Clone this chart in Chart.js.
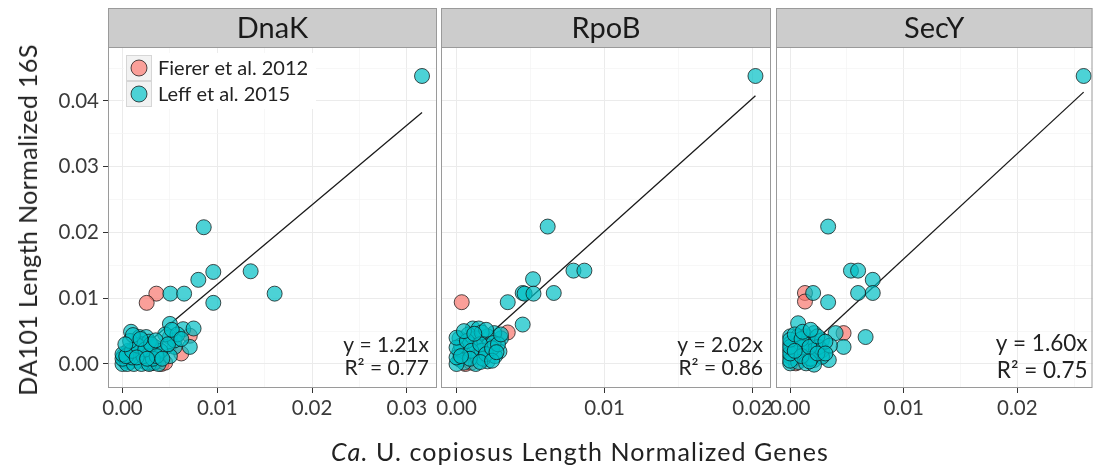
<!DOCTYPE html>
<html>
<head>
<meta charset="utf-8">
<script src="https://cdn.jsdelivr.net/npm/chart.js@4.4.1/dist/chart.umd.min.js"></script>
<style>
  body { margin: 0; background: #fff; font-family: Lato, "Open Sans", sans-serif; }
  .wrap { position: relative; width: 1101px; height: 466px; overflow: hidden; }
  canvas { position: absolute; left: 0; top: 0; }
  .ytitle { position: absolute; left: 27px; top: 220px; transform: translate(-50%, -50%) rotate(-90deg);
            white-space: nowrap; font-size: 25px; letter-spacing: 0.4px; color: #222; }
  .xtitle { position: absolute; left: 580px; top: 451px; transform: translate(-50%, -50%);
            white-space: nowrap; font-size: 25px; letter-spacing: 1.1px; color: #222; }
</style>
</head>
<body>
<div class="wrap">
  <canvas id="c0" width="1101" height="466"></canvas>
  <canvas id="c1" width="1101" height="466"></canvas>
  <canvas id="c2" width="1101" height="466"></canvas>
  <div class="ytitle">DA101 Length Normalized 16S</div>
  <div class="xtitle"><i>Ca.</i> U. copiosus Length Normalized Genes</div>
</div>
<script>
// facet names, fits
const panelNames = ['DnaK', 'RpoB', 'SecY'];
const slopes = [1.21, 2.02, 1.60];
const rSquared = ['0.77', '0.86', '0.75'];
const seriesNames = ['Fierer et al. 2012', 'Leff et al. 2015'];

// DnaK
const dnakLeffX = [0.0316, 0.00857, 0.00958, 0.0080, 0.01352, 0.01605, 0.00958, 0.00505, 0.0065,
  0.0009, 0.0018, 0.0025, 0.0050, 0.0064, 0.0075, 0.0050, 0.0071, 0.0055, 0.0046, 0.0034, 0.0030,
  0.0006, 0.0014, 0.0002, 0.0008, 0.0017, 0.0025, 0.0033, 0.0000, 0.0005, 0.0012, 0.0020, 0.0028,
  0.0038, 0.0050, 0.0055, 0.0045, 0.0040, 0.0020, 0.0028, 0.0010, 0.0022, 0.0032, 0.0001, 0.0015,
  0.0000, 0.0000, 0.0004, 0.0010, 0.0016, 0.0024, 0.0030, 0.0036, 0.0042, 0.0008, 0.0015, 0.0026,
  0.0035, 0.0048, 0.0058, 0.0052, 0.0062, 0.0011, 0.0019, 0.0003];
const dnakLeffY = [0.0438, 0.0208, 0.0140, 0.0128, 0.0141, 0.0107, 0.0093, 0.0107, 0.0107,
  0.0049, 0.0041, 0.0041, 0.0061, 0.0053, 0.0054, 0.0041, 0.0026, 0.0026, 0.0026, 0.0026, 0.0013,
  0.0020, 0.0018, 0.0005, 0.0003, 0.0005, 0.0002, 0.0002, 0.0000, 0.0000, 0.0000, 0.0000, 0.0000,
  0.0000, 0.0012, 0.0036, 0.0045, 0.0020, 0.0030, 0.0034, 0.0010, 0.0012, 0.0008, 0.0012, 0.0028,
  0.0008, 0.0015, 0.0012, 0.0020, 0.0028, 0.0022, 0.0030, 0.0012, 0.0008, 0.0035, 0.0010, 0.0008,
  0.0036, 0.0030, 0.0045, 0.0052, 0.0038, 0.0044, 0.0038, 0.0030];
const dnakFiererX = [0.00357, 0.00255, 0.0071, 0.0062, 0.0041, 0.0035, 0.0045, 0.0030];
const dnakFiererY = [0.0107, 0.0093, 0.0043, 0.0016, 0.0000, 0.0003, 0.0002, 0.0001];

// RpoB
const rpobLeffX = [0.0202, 0.00616, 0.0079, 0.00864, 0.00517, 0.00447, 0.0046, 0.0052, 0.00657, 0.00346, 0.00447,
  0.0030, 0.0029, 0.00255, 0.0011, 0.0015, 0.0002, 0.0002, 0.0002, 0.0021, 0.0021, 0.0021, 0.0013,
  0.0013, 0.0013, 0.0013, 0.0005, 0.0005, 0.0008, 0.0017, 0.0025, 0.0009, 0.0017, 0.0000, 0.0003,
  0.0018, 0.0026,
  0.0000, 0.0000, 0.0000, 0.0007, 0.0010, 0.0016, 0.0020, 0.0024, 0.0028, 0.0005, 0.0020, 0.0009,
  0.0016, 0.0024, 0.0030, 0.0012, 0.0003, 0.0027];
const rpobLeffY = [0.0438, 0.0209, 0.0142, 0.0142, 0.0129, 0.0108, 0.0107, 0.0107, 0.0108, 0.0094, 0.0060,
  0.0039, 0.0019, 0.0047, 0.0054, 0.0054, 0.0039, 0.0019, 0.0007, 0.0042, 0.0027, 0.0004, 0.0039,
  0.0027, 0.0011, 0.0000, 0.0015, 0.0002, 0.0045, 0.0048, 0.0032, 0.0030, 0.0020, 0.0000, 0.0028,
  0.0008, 0.0012,
  0.0010, 0.0025, 0.0040, 0.0035, 0.0020, 0.0030, 0.0015, 0.0024, 0.0030, 0.0050, 0.0052, 0.0008,
  0.0003, 0.0005, 0.0045, 0.0046, 0.0012, 0.0018];
const rpobFiererX = [0.00035, 0.00346, 0.0006, 0.0010];
const rpobFiererY = [0.0094, 0.0048, 0.0000, 0.0002];

// SecY
const secyLeffX = [0.02584, 0.00334, 0.00535, 0.00598, 0.00727, 0.00598, 0.00727, 0.00202, 0.00334,
  0.00664, 0.0040, 0.0047, 0.0034, 0.0007,
  0.0000, 0.0000, 0.0000, 0.0000, 0.0000, 0.0007, 0.0007, 0.0007, 0.0007, 0.0014, 0.0014, 0.0014,
  0.0014, 0.0014, 0.0021, 0.0021, 0.0021, 0.0021, 0.0028, 0.0028, 0.0028, 0.0021, 0.0025, 0.0035,
  0.0010, 0.0018,
  0.0000, 0.0000, 0.0000, 0.0000, 0.0004, 0.0010, 0.0010, 0.0017, 0.0017, 0.0024, 0.0024, 0.0031,
  0.0031, 0.0004, 0.0011, 0.0018];
const secyLeffY = [0.0438, 0.0209, 0.0142, 0.0142, 0.0128, 0.0108, 0.0108, 0.0108, 0.0094,
  0.0041, 0.0047, 0.0026, 0.0006, 0.0062,
  0.0042, 0.0031, 0.0021, 0.0011, 0.0001, 0.0042, 0.0031, 0.0016, 0.0003, 0.0042, 0.0031, 0.0021,
  0.0011, 0.0001, 0.0047, 0.0031, 0.0021, 0.0006, 0.0036, 0.0021, 0.0011, -0.0001, 0.0026, 0.0028,
  0.0025, 0.0008,
  0.0005, 0.0016, 0.0026, 0.0037, 0.0045, 0.0038, 0.0012, 0.0026, 0.0004, 0.0016, 0.0042, 0.0034,
  0.0016, 0.0020, 0.0049, 0.0052];
const secyFiererX = [0.0013, 0.0013, 0.0047, 0.0005];
const secyFiererY = [0.0108, 0.0095, 0.0047, 0.0001];

// axes
const yTicks = [0, 0.005, 0.01, 0.015, 0.02, 0.025, 0.03, 0.035, 0.04, 0.045];
const xTicks = [
  [0, 0.005, 0.01, 0.015, 0.02, 0.025, 0.03],
  [0, 0.005, 0.01, 0.015, 0.02],
  [0, 0.005, 0.01, 0.015, 0.02, 0.025]
];
const xLimits = [[-0.00153, 0.03318], [-0.00105, 0.02125], [-0.00125, 0.02662]];
const yLimits = [-0.00365, 0.04821];

const leffX = [dnakLeffX, rpobLeffX, secyLeffX];
const leffY = [dnakLeffY, rpobLeffY, secyLeffY];
const fiererX = [dnakFiererX, rpobFiererX, secyFiererX];
const fiererY = [dnakFiererY, rpobFiererY, secyFiererY];

const TEAL = 'rgba(0,191,196,0.7)';
const PINK = 'rgba(248,118,109,0.7)';
const EDGE = 'rgba(20,20,20,0.75)';
const FONT = 'Lato, "Open Sans", sans-serif';

const isMajor = v => Math.abs(v * 100 - Math.round(v * 100)) < 1e-6;
const pts = (xs, ys) => xs.map((x, i) => ({ x, y: ys[i] }));

// strip, panel border, fit label, legend
const panelDecor = {
  id: 'panelDecor',
  afterDraw(chart, args, o) {
    const { ctx, chartArea: a } = chart;
    ctx.save();
    ctx.fillStyle = '#cccccc';
    ctx.fillRect(a.left, 8, a.right - a.left, a.top - 8);
    ctx.strokeStyle = '#9a9a9a';
    ctx.lineWidth = 1;
    ctx.strokeRect(a.left + 0.5, 8.5, a.right - a.left - 1, a.top - 8);
    ctx.strokeRect(a.left + 0.5, a.top + 0.5, a.right - a.left - 1, a.bottom - a.top - 1);

    ctx.fillStyle = '#1a1a1a';
    ctx.textAlign = 'center';
    ctx.textBaseline = 'middle';
    ctx.font = '29px ' + FONT;
    ctx.fillText(o.name, (a.left + a.right) / 2, 29);

    ctx.fillStyle = '#222';
    ctx.textAlign = 'right';
    ctx.font = o.fitSize + 'px ' + FONT;
    ctx.fillText('y = ' + o.slope.toFixed(2) + 'x', a.right - o.fitRight, o.fitY1);
    ctx.fillText('R\u00B2 = ' + o.r2, a.right - o.fitRight, o.fitY2);

    if (o.legend) {
      const lx = a.left + 18, ly = 55;
      ctx.fillStyle = '#fff';
      ctx.fillRect(lx - 2, ly - 2, 192, 56);
      const cols = [PINK, TEAL];
      seriesNames.forEach((name, i) => {
        const y0 = ly + i * 26;
        ctx.fillStyle = '#f2f2f2';
        ctx.fillRect(lx, y0, 26, 26);
        ctx.strokeStyle = '#d6d6d6';
        ctx.strokeRect(lx + 0.5, y0 + 0.5, 25, 25);
        ctx.beginPath();
        ctx.arc(lx + 13, y0 + 13, 8, 0, Math.PI * 2);
        ctx.fillStyle = '#fff';
        ctx.fill();
        ctx.fillStyle = cols[i];
        ctx.fill();
        ctx.strokeStyle = EDGE;
        ctx.stroke();
        ctx.fillStyle = '#222';
        ctx.textAlign = 'left';
        ctx.font = '20px ' + FONT;
        ctx.fillText(name, lx + 32, y0 + 14);
      });
    }
    ctx.restore();
  }
};

function makePanel(i, padLeft, padRight, yAxisWidth, fit) {
  const maxX = Math.max(...leffX[i], ...fiererX[i]);
  new Chart(document.getElementById('c' + i), {
    type: 'scatter',
    data: {
      datasets: [
        { label: seriesNames[1], data: pts(leffX[i], leffY[i]), backgroundColor: TEAL, borderColor: EDGE,
          borderWidth: 1, pointRadius: 7.5, pointHoverRadius: 7.5 },
        { label: seriesNames[0], data: pts(fiererX[i], fiererY[i]), backgroundColor: PINK, borderColor: EDGE,
          borderWidth: 1, pointRadius: 7.5, pointHoverRadius: 7.5 },
        { label: 'fit', data: [{ x: 0, y: 0 }, { x: maxX, y: slopes[i] * maxX }], showLine: true,
          borderColor: '#1a1a1a', borderWidth: 1.3, pointRadius: 0 }
      ]
    },
    options: {
      responsive: false,
      animation: false,
      events: [],
      layout: { padding: { left: padLeft, right: padRight, top: 47, bottom: 0 } },
      plugins: {
        legend: { display: false },
        tooltip: { enabled: false },
        panelDecor: Object.assign({ name: panelNames[i], slope: slopes[i], r2: rSquared[i], legend: i === 0 }, fit)
      },
      scales: {
        x: {
          type: 'linear', min: xLimits[i][0], max: xLimits[i][1],
          afterBuildTicks: s => { s.ticks = xTicks[i].map(v => ({ value: v })); },
          afterFit: s => { s.height = 78; },
          border: { display: false },
          grid: {
            color: c => isMajor(c.tick.value) ? '#ebebeb' : '#f4f4f4',
            lineWidth: c => isMajor(c.tick.value) ? 1 : 0.7,
            tickColor: c => isMajor(c.tick.value) ? '#333' : 'rgba(0,0,0,0)',
            tickLength: 5
          },
          ticks: {
            autoSkip: false, maxRotation: 0, padding: 3, color: '#3a3a3a',
            font: { family: FONT, size: 20.5 },
            callback: v => isMajor(v) ? v.toFixed(2) : ''
          }
        },
        y: {
          type: 'linear', min: yLimits[0], max: yLimits[1],
          afterBuildTicks: s => { s.ticks = yTicks.map(v => ({ value: v })); },
          afterFit: s => { s.width = yAxisWidth; },
          border: { display: false },
          grid: {
            color: c => isMajor(c.tick.value) ? '#ebebeb' : '#f4f4f4',
            lineWidth: c => isMajor(c.tick.value) ? 1 : 0.7,
            tickColor: c => isMajor(c.tick.value) ? '#333' : 'rgba(0,0,0,0)',
            drawTicks: i === 0,
            tickLength: 5
          },
          ticks: {
            display: i === 0, autoSkip: false, padding: 4, color: '#3a3a3a',
            font: { family: FONT, size: 20.5 },
            callback: v => isMajor(v) ? v.toFixed(2) : ''
          }
        }
      }
    },
    plugins: [panelDecor]
  });
}

makePanel(0, 0, 1101 - 437, 108, { fitSize: 21, fitRight: 8, fitY1: 345, fitY2: 368 });
makePanel(1, 441, 1101 - 771, 0, { fitSize: 21, fitRight: 8, fitY1: 345, fitY2: 368 });
makePanel(2, 776, 1, 0, { fitSize: 22.5, fitRight: 5, fitY1: 344, fitY2: 371 });
</script>
</body>
</html>
